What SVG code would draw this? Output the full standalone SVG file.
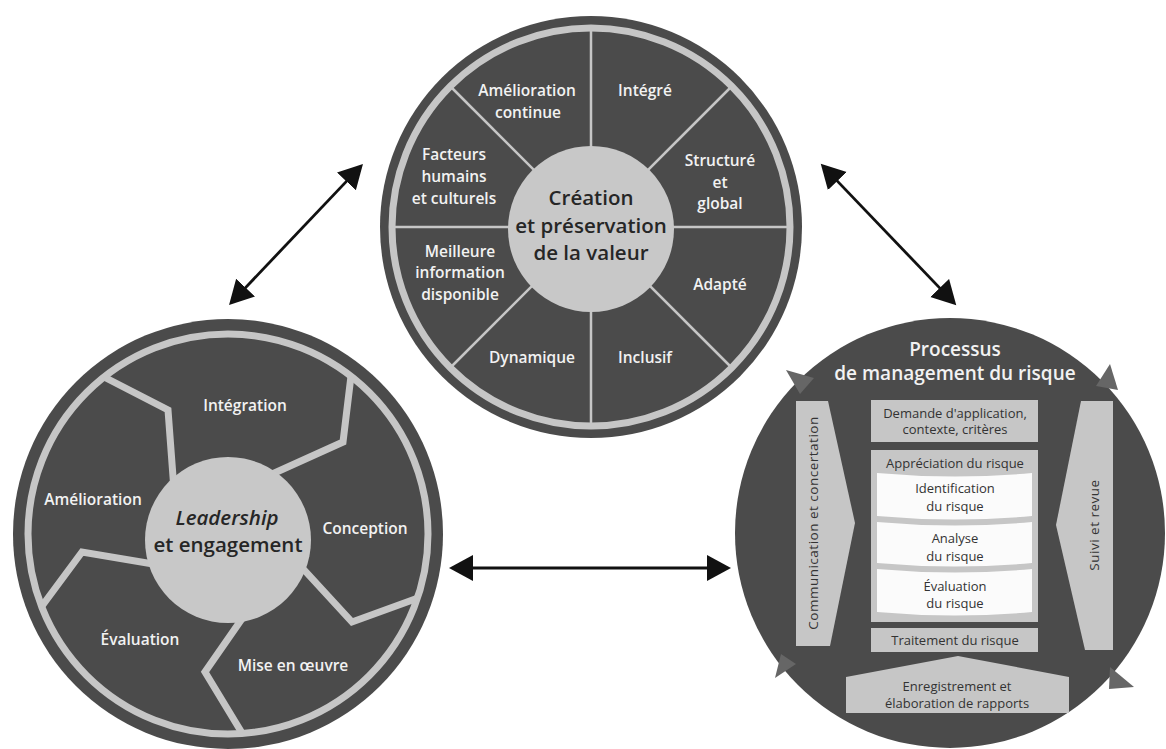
<svg xmlns="http://www.w3.org/2000/svg" width="1166" height="749" viewBox="0 0 1166 749">
<style>
.dark{fill:#4b4b4b}
.hub{fill:#c8c8c8}
.spoke{stroke:#c6c6c6;stroke-width:2.5;fill:none}
.sep{stroke:#c6c6c6;stroke-width:7;fill:none;stroke-linejoin:miter}
.lbl{font-family:"Open Sans","Liberation Sans",sans-serif;font-weight:600;font-size:15.5px;fill:#f2f2f2;text-anchor:middle}
.ctr{font-family:"Open Sans","Liberation Sans",sans-serif;font-weight:600;font-size:20.5px;fill:#262626;text-anchor:middle}
.ttl{font-family:"Open Sans","Liberation Sans",sans-serif;font-weight:600;font-size:19px;fill:#f2f2f2;text-anchor:middle}
.box{fill:#c6c6c6}
.wbox{fill:#fbfbfb}
.btx{font-family:"Open Sans","Liberation Sans",sans-serif;font-weight:400;font-size:13px;fill:#333;text-anchor:middle}
.vtx{font-family:"Open Sans","Liberation Sans",sans-serif;font-weight:400;font-size:13.5px;letter-spacing:0.5px;fill:#333;text-anchor:middle}
.rim{fill:#666}
.arr{stroke:#111;stroke-width:2.8;fill:none;marker-start:url(#ah);marker-end:url(#ah)}
</style>
<defs>
<marker id="ah" markerUnits="userSpaceOnUse" markerWidth="26" markerHeight="28" refX="20" refY="13" orient="auto-start-reverse" viewBox="0 0 26 28">
<path d="M0,0 L24,13 L0,26 z" fill="#111"/>
</marker>
</defs>

<g id="principes">
<circle class="dark" cx="591" cy="227" r="211"/>
<circle cx="591" cy="227" r="199" fill="none" stroke="#c6c6c6" stroke-width="7"/>
<g class="spoke">
<line x1="591" y1="30" x2="591" y2="424"/>
<line x1="394" y1="227" x2="788" y2="227"/>
<line x1="452" y1="88" x2="730" y2="366"/>
<line x1="730" y1="88" x2="452" y2="366"/>
</g>
<circle class="hub" cx="591" cy="229" r="83"/>
<text class="lbl"><tspan x="527" y="96">Amélioration</tspan><tspan x="528" y="118">continue</tspan></text>
<text class="lbl" x="645" y="96">Intégré</text>
<text class="lbl"><tspan x="454" y="160">Facteurs</tspan><tspan x="454" y="182">humains</tspan><tspan x="454" y="204">et culturels</tspan></text>
<text class="lbl"><tspan x="720" y="166">Structuré</tspan><tspan x="720" y="188">et</tspan><tspan x="720" y="209">global</tspan></text>
<text class="lbl"><tspan x="460" y="257">Meilleure</tspan><tspan x="460" y="278">information</tspan><tspan x="460" y="300">disponible</tspan></text>
<text class="lbl" x="720" y="290">Adapté</text>
<text class="lbl" x="532" y="363">Dynamique</text>
<text class="lbl" x="645" y="363">Inclusif</text>
<text class="ctr"><tspan x="591" y="205">Création</tspan><tspan x="591" y="233">et préservation</tspan><tspan x="591" y="260">de la valeur</tspan></text>
</g>

<g id="cadre">
<circle class="dark" cx="228" cy="534" r="215"/>
<circle cx="228" cy="534" r="200" fill="none" stroke="#c6c6c6" stroke-width="7"/>
<polyline class="sep" points="174,490 168,410 104,377"/>
<polyline class="sep" points="270,475 343,442 351,376"/>
<polyline class="sep" points="295,560 352,622 418,598"/>
<polyline class="sep" points="255,600 205,672 242,733"/>
<polyline class="sep" points="165,566 82,552 42,606"/>
<circle class="hub" cx="228" cy="540" r="83"/>
<text class="lbl" x="245" y="411">Intégration</text>
<text class="lbl" x="93" y="505">Amélioration</text>
<text class="lbl" x="365" y="534">Conception</text>
<text class="lbl" x="140" y="645">Évaluation</text>
<text class="lbl" x="293" y="671">Mise en œuvre</text>
<text class="ctr"><tspan x="227" y="525" font-style="italic">Leadership</tspan><tspan x="228" y="552">et engagement</tspan></text>
</g>

<g id="processus">
<circle class="dark" cx="950" cy="533" r="215"/>
<polygon class="rim" points="786,370 814,378 800,394"/>
<polygon class="rim" points="1110,364 1118,390 1096,386"/>
<polygon class="rim" points="775,678 781,654 796,664"/>
<polygon class="rim" points="1134,687 1110,667 1109,689"/>
<text class="ttl"><tspan x="955" y="356">Processus</tspan><tspan x="955" y="380">de management du risque</tspan></text>
<polygon class="box" points="796,401 828,401 855,523 830,646 796,646"/>
<polygon class="box" points="1113,401 1081,401 1056,525 1085,650 1113,650"/>
<text class="vtx" transform="translate(818,523) rotate(-90)" x="0" y="0">Communication et concertation</text>
<text class="vtx" transform="translate(1099,525) rotate(-90)" x="0" y="0">Suivi et revue</text>
<rect class="box" x="871" y="400" width="167" height="42"/>
<text class="btx"><tspan x="955" y="417.5">Demande d'application,</tspan><tspan x="955" y="433.5">contexte, critères</tspan></text>
<rect class="box" x="871" y="450" width="167" height="172"/>
<text class="btx" x="955" y="467.5">Appréciation du risque</text>
<path class="wbox" d="M877,473 Q955,480 1032,473 L1032,516 Q955,523 877,516 z"/>
<path class="wbox" d="M877,522 Q955,529 1032,522 L1032,563 Q955,570 877,563 z"/>
<path class="wbox" d="M877,569 Q955,576 1032,569 L1032,612 Q955,619 877,612 z"/>
<text class="btx"><tspan x="955" y="492.5">Identification</tspan><tspan x="955" y="510.5">du risque</tspan></text>
<text class="btx"><tspan x="955" y="542.5">Analyse</tspan><tspan x="955" y="560.5">du risque</tspan></text>
<text class="btx"><tspan x="955" y="590.5">Évaluation</tspan><tspan x="955" y="607.5">du risque</tspan></text>
<rect class="box" x="871" y="628" width="167" height="24"/>
<text class="btx" x="955" y="644.5">Traitement du risque</text>
<polygon class="box" points="846,677 958,656 1069,677 1069,713 846,713"/>
<text class="btx"><tspan x="957" y="690.5">Enregistrement et</tspan><tspan x="957" y="707.5">élaboration de rapports</tspan></text>
</g>

<g id="connecteurs">
<line class="arr" x1="231.8" y1="302.1" x2="360.2" y2="166.9"/>
<line class="arr" x1="823.5" y1="166.6" x2="953.5" y2="302.4"/>
<line class="arr" x1="453" y1="568" x2="727" y2="568"/>
</g>
</svg>
